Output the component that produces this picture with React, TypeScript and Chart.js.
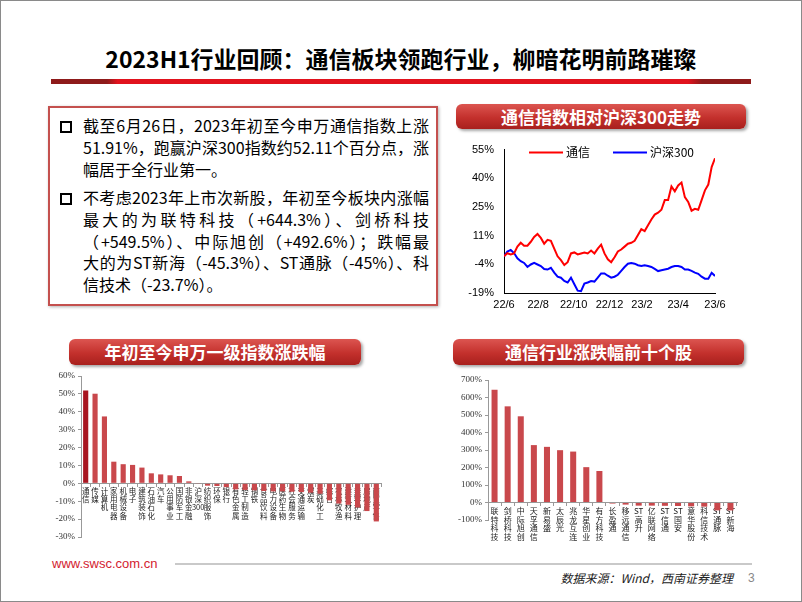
import React, { useEffect, useRef } from "react";
import { Chart, registerables } from "chart.js";

Chart.register(...registerables);

// ---------- Line chart data (通信 vs 沪深300, cumulative % since 22/6) ----------
const LINE_TICK_POS = [0, 10.2, 20.8, 31.5, 41.2, 52, 63];
const LINE_X_LABELS = ["22/6", "22/8", "22/10", "22/12", "23/2", "23/4", "23/6"];
const LINE_Y_TICKS = [-18.9, -4.12, 10.66, 25.44, 40.22, 55];
const LINE_Y_LABELS = ["-19%", "-4%", "11%", "25%", "40%", "55%"];
const TX_VALUES = [
  0, 1.6, 1.0, 1.5, 5.0, 7.0, 5.5, 5.5, 7.5, 10.0, 11.5, 9.5, 6.5, 8.5, 8.0, 4.0,
  0.0, -2.0, -4.5, -3.0, 1.5, 2.0, 1.0, 1.5, 2.0, 1.5, 3.0, 1.5, 4.0, 6.0, 1.5, -1.5,
  -3.0, -0.5, 2.5, 3.5, 5.0, 6.5, 7.0, 8.0, 11.0, 14.0, 13.0, 16.0, 19.0, 21.5, 22.5, 24.0,
  29.0, 29.0, 36.0, 33.5, 36.5, 38.0, 30.5, 28.0, 23.5, 24.5, 24.0, 29.0, 34.0, 37.0, 46.0, 50.5,
];
const HS300_VALUES = [
  0, 2.5, 3.3, 1.7, -1.0, -2.5, -3.4, -5.5, -4.2, -3.4, -4.2, -5.0, -6.5, -6.8, -5.9, -8.4,
  -10.5, -11.0, -12.7, -13.5, -11.0, -14.4, -17.7, -18.0, -14.0, -13.5, -12.7, -13.0, -11.0, -8.8, -8.8, -10.0,
  -11.0, -10.5, -9.5, -7.5, -5.5, -3.8, -3.4, -3.8, -4.6, -5.0, -4.6, -5.0, -5.5, -6.5, -7.6, -7.2,
  -6.8, -6.4, -5.5, -5.0, -5.0, -5.5, -6.8, -6.8, -7.5, -8.4, -9.0, -10.5, -11.5, -11.5, -8.5, -10.1,
];
const LINE_SERIES_NAMES = ["通信", "沪深300"];

// ---------- 申万一级指数涨跌幅 ----------
const IND_LABELS = [
  "通信", "传媒", "计算机", "家用电器", "机械设备", "电子", "建筑装饰", "石油石化",
  "汽车", "公用事业", "国防军工", "非银金融", "沪深300", "纺织服饰", "环保", "银行",
  "有色金属", "轻工制造", "钢铁", "食品饮料", "电力设备", "医药生物", "社会服务", "交通运输",
  "煤炭", "基础化工", "综合", "农林牧渔", "建筑材料", "美容护理", "房地产", "商贸零售",
];
const IND_VALUES = [
  51.9, 50.1, 37.4, 12.1, 10.7, 10.3, 8.8, 5.6,
  5.0, 4.5, 4.1, 1.1, -0.2, -1.3, -1.5, -2.1,
  -3.4, -3.7, -3.9, -4.3, -4.5, -4.5, -4.7, -4.9,
  -5.2, -5.8, -9.5, -11.3, -12.0, -13.5, -15.5, -21.3,
];
const IND_Y_MIN = -30;
const IND_Y_MAX = 60;
const IND_Y_STEP = 10;

// ---------- 通信行业涨跌幅前十个股 ----------
const STOCK_LABELS = [
  "联特科技", "剑桥科技", "中际旭创", "天孚通信", "新易盛", "太辰光", "兆龙互连", "华星创业",
  "有方科技", "长盈通", "移远通信", "ST高升", "亿联网络", "ST信通", "ST国安", "意华股份",
  "科信技术", "ST通脉", "ST新海",
];
const STOCK_VALUES = [
  644.3, 549.5, 492.6, 328, 318, 299, 291, 202,
  180, -6, -12, -18, -18, -19, -20, -22,
  -23.7, -45, -45.3,
];
const STOCK_Y_MIN = -100;
const STOCK_Y_MAX = 700;
const STOCK_Y_STEP = 100;

const CJK = '"Noto Sans CJK SC", "Microsoft YaHei", sans-serif';

function vertical(label: string): string[] {
  return label.match(/ST|\d+|./g) || [label];
}

function ChartBox(props: { make: () => any; left: number; top: number; width: number; height: number }) {
  const ref = useRef<HTMLCanvasElement>(null);
  useEffect(() => {
    const chart = new Chart(ref.current as HTMLCanvasElement, props.make());
    return () => chart.destroy();
  }, []);
  return (
    <canvas
      ref={ref}
      width={props.width}
      height={props.height}
      style={{ position: "absolute", left: props.left, top: props.top, width: props.width, height: props.height }}
    />
  );
}

const lineLegend = {
  id: "lineLegend",
  afterDraw(chart: any) {
    const { ctx, chartArea } = chart;
    const items = [
      { dx: 25, w: 34, tx: 62 },
      { dx: 109, w: 34, tx: 146 },
    ];
    chart.data.datasets.forEach((ds: any, i: number) => {
      const it = items[i];
      const y = chartArea.top + 3;
      ctx.save();
      ctx.strokeStyle = ds.borderColor;
      ctx.lineWidth = 2;
      ctx.beginPath();
      ctx.moveTo(chartArea.left + it.dx, y);
      ctx.lineTo(chartArea.left + it.dx + it.w, y);
      ctx.stroke();
      ctx.fillStyle = "#000";
      ctx.font = '12px "Noto Sans CJK SC"';
      ctx.textBaseline = "middle";
      ctx.fillText(ds.label, chartArea.left + it.tx, y);
      ctx.restore();
    });
  },
};

function makeLine() {
  return {
    type: "line",
    data: {
      datasets: [
        {
          label: LINE_SERIES_NAMES[0],
          data: TX_VALUES.map((v, i) => ({ x: i, y: v })),
          borderColor: "#FF0000",
          borderWidth: 2,
          pointRadius: 0,
          tension: 0,
        },
        {
          label: LINE_SERIES_NAMES[1],
          data: HS300_VALUES.map((v, i) => ({ x: i, y: v })),
          borderColor: "#0000FF",
          borderWidth: 2,
          pointRadius: 0,
          tension: 0,
        },
      ],
    },
    options: {
      responsive: false,
      animation: false,
      layout: { padding: { top: 14, right: 31, bottom: 0, left: 0 } },
      plugins: { legend: { display: false }, tooltip: { enabled: false } },
      scales: {
        x: {
          type: "linear",
          min: 0,
          max: 63,
          afterBuildTicks: (s: any) => {
            s.ticks = LINE_TICK_POS.map((v) => ({ value: v }));
          },
          afterFit: (s: any) => {
            s.height = 25;
          },
          grid: { display: false, drawTicks: false },
          border: { display: true, color: "#000", width: 1 },
          ticks: {
            autoSkip: false,
            maxRotation: 0,
            padding: 5,
            color: "#000",
            font: { family: "Liberation Sans", size: 11 },
            callback: (v: number) => LINE_X_LABELS[LINE_TICK_POS.indexOf(v)] ?? "",
          },
        },
        y: {
          min: LINE_Y_TICKS[0],
          max: LINE_Y_TICKS[LINE_Y_TICKS.length - 1],
          afterBuildTicks: (s: any) => {
            s.ticks = LINE_Y_TICKS.map((v) => ({ value: v }));
          },
          afterFit: (s: any) => {
            s.width = 48;
          },
          grid: { display: false, drawTicks: false },
          border: { display: true, color: "#000", width: 1 },
          ticks: {
            padding: 10,
            color: "#000",
            font: { family: "Liberation Sans", size: 11 },
            callback: (v: number) => LINE_Y_LABELS[LINE_Y_TICKS.indexOf(v)] ?? "",
          },
        },
      },
    },
    plugins: [lineLegend],
  };
}

function makeBars(
  labels: string[],
  values: number[],
  colors: string[],
  ymin: number,
  ymax: number,
  step: number,
  yWidth: number,
  pad: any,
  barPct: number,
  labelSize: number
) {
  return {
    type: "bar",
    data: {
      labels: labels.map(vertical),
      datasets: [
        {
          data: values,
          backgroundColor: colors,
          borderWidth: 0,
          barPercentage: barPct,
          categoryPercentage: 1,
        },
      ],
    },
    options: {
      responsive: false,
      animation: false,
      layout: { padding: pad },
      plugins: { legend: { display: false }, tooltip: { enabled: false } },
      scales: {
        x: {
          position: { y: 0 },
          offset: true,
          z: 1,
          grid: { display: true, drawOnChartArea: false, offset: true, tickLength: 3, color: "#999" },
          border: { display: true, color: "#999", width: 1 },
          ticks: {
            autoSkip: false,
            maxRotation: 0,
            minRotation: 0,
            padding: 1,
            color: "#222",
            font: { family: "Noto Sans CJK SC", size: labelSize, lineHeight: 1.08 },
          },
        },
        y: {
          min: ymin,
          max: ymax,
          afterFit: (s: any) => {
            s.width = yWidth;
          },
          grid: { display: true, drawOnChartArea: false, tickLength: 3, color: "#999" },
          border: { display: true, color: "#999", width: 1 },
          ticks: {
            stepSize: step,
            padding: 3,
            color: "#333",
            font: { family: "Liberation Serif", size: 9 },
            callback: (v: number) => v + "%",
          },
        },
      },
    },
  };
}

function Header(props: { left: number; top: number; width: number; height: number; text: string }) {
  return (
    <div
      style={{
        position: "absolute",
        left: props.left,
        top: props.top,
        width: props.width,
        height: props.height,
        borderRadius: 6,
        background: "linear-gradient(#dc5550, #c3302c 55%, #a8201d)",
        boxShadow: "2px 2px 3px rgba(0,0,0,0.35)",
        color: "#fff",
        fontFamily: CJK,
        fontWeight: 700,
        fontSize: 17,
        lineHeight: props.height + "px",
        textAlign: "center",
      }}
    >
      {props.text}
    </div>
  );
}

const PARA1 = [
  "截至6月26日，2023年初至今申万通信指数上涨",
  "51.91%，跑赢沪深300指数约52.11个百分点，涨",
  "幅居于全行业第一。",
];
const PARA2 = [
  "不考虑2023年上市次新股，年初至今板块内涨幅",
  "最大的为联特科技（+644.3%）、剑桥科技",
  "（+549.5%）、中际旭创（+492.6%）；跌幅最",
  "大的为ST新海（-45.3%）、ST通脉（-45%）、科",
  "信技术（-23.7%）。",
];

function Para(props: { lines: string[]; top: number }) {
  return (
    <div style={{ position: "absolute", left: 82, top: props.top, width: 346 }}>
      <div
        style={{
          position: "absolute",
          left: -23,
          top: 6,
          width: 8,
          height: 8,
          border: "2px solid #000",
          background: "#fff",
        }}
      />
      {props.lines.map((l, i) => (
        <div
          key={i}
          style={{
            height: 21.8,
            lineHeight: "21.8px",
            whiteSpace: "nowrap",
            textAlign: "justify",
            textAlignLast: i === props.lines.length - 1 ? "left" : "justify",
            fontFamily: CJK,
            fontSize: 16,
            color: "#000",
          }}
        >
          {l}
        </div>
      ))}
    </div>
  );
}

export default function App() {
  const indColors = IND_LABELS.map((_, i) => (i === 0 ? "#A81520" : "#C9484C"));
  const stockColors = STOCK_LABELS.map(() => "#C9484C");
  return (
    <div
      style={{
        position: "absolute",
        left: 0,
        top: 0,
        width: 802,
        height: 602,
        background: "#fff",
        overflow: "hidden",
        boxSizing: "border-box",
        border: "1px solid #8a8a8a",
      }}
    >
      <div
        style={{
          position: "absolute",
          left: 0,
          top: 43,
          width: 800,
          textAlign: "center",
          fontFamily: CJK,
          fontWeight: 700,
          fontSize: 23,
          lineHeight: "28px",
          color: "#000",
        }}
      >
        2023H1行业回顾：通信板块领跑行业，柳暗花明前路璀璨
      </div>
      <div
        style={{
          position: "absolute",
          left: 50,
          top: 78,
          width: 700,
          height: 5,
          background:
            "linear-gradient(to right, #8e1a1a 0%, #8e1a1a 8%, #e1121d 9.5%, #e1121d 91%, #8e1a1a 93%, #8e1a1a 100%)",
        }}
      />

      {/* text box */}
      <div
        style={{
          position: "absolute",
          left: 47,
          top: 105,
          width: 390,
          height: 200,
          boxSizing: "border-box",
          border: "2px solid #C4504E",
          boxShadow: "1px 1px 3px rgba(0,0,0,0.3)",
        }}
      />
      <Para lines={PARA1} top={114} />
      <Para lines={PARA2} top={186} />

      <Header left={455} top={103} width={290} height={25} text="通信指数相对沪深300走势" />
      <Header left={68} top={338} width={292} height={26} text="年初至今申万一级指数涨跌幅" />
      <Header left={452} top={338} width={291} height={26} text="通信行业涨跌幅前十个股" />

      <ChartBox make={makeLine} left={455} top={132} width={290} height={185} />
      <ChartBox
        make={() =>
          makeBars(IND_LABELS, IND_VALUES, indColors, IND_Y_MIN, IND_Y_MAX, IND_Y_STEP, 30,
            { top: 10, bottom: 9, right: 5, left: 0 }, 0.55, 7.5)
        }
        left={50}
        top={365}
        width={335}
        height={180}
      />
      <ChartBox
        make={() =>
          makeBars(STOCK_LABELS, STOCK_VALUES, stockColors, STOCK_Y_MIN, STOCK_Y_MAX, STOCK_Y_STEP, 47,
            { top: 9, bottom: 21, right: 4, left: 0 }, 0.46, 8)
        }
        left={440}
        top={370}
        width={300}
        height={170}
      />

      {/* footer */}
      <div
        style={{
          position: "absolute",
          left: 51,
          top: 554,
          fontFamily: "Liberation Sans, Arial, sans-serif",
          fontSize: 13,
          lineHeight: "18px",
          color: "#D3222F",
        }}
      >
        www.swsc.com.cn
      </div>
      <div style={{ position: "absolute", left: 174, top: 562, width: 577, height: 2, background: "#c9c9c9" }} />
      <div
        style={{
          position: "absolute",
          right: 68,
          top: 568,
          fontFamily: CJK,
          fontStyle: "italic",
          fontSize: 12,
          lineHeight: "18px",
          color: "#222",
        }}
      >
        数据来源：Wind，西南证券整理
      </div>
      <div
        style={{
          position: "absolute",
          left: 747,
          top: 568,
          fontFamily: "Liberation Sans, Arial, sans-serif",
          fontSize: 12,
          lineHeight: "18px",
          color: "#888",
        }}
      >
        3
      </div>
    </div>
  );
}
